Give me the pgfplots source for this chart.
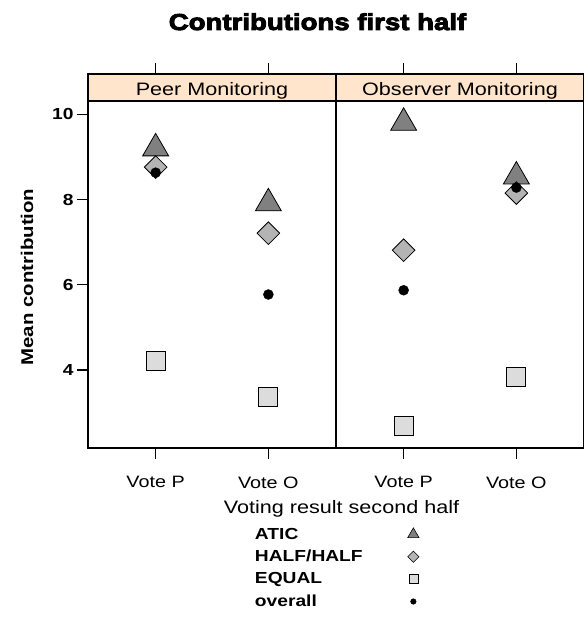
\documentclass[border=0pt]{standalone}
\usepackage{fontspec}
\setmainfont{Liberation Sans}[FakeStretch=1.2]
\newfontfamily\titlefont{Liberation Sans}[FakeStretch=1.2, BoldFeatures={FakeBold=4}]
\usepackage{pgfplots}
\pgfplotsset{compat=1.18}
\definecolor{stripcol}{HTML}{FFE5CC}
\definecolor{aticcol}{HTML}{808080}
\definecolor{halfcol}{HTML}{B4B4B4}
\definecolor{eqcol}{HTML}{DCDCDC}
\newcommand{\fs}[1]{\fontsize{#1}{#1}\selectfont}
\pgfplotsset{
  panel/.style={scale only axis, width=248pt, height=374pt,
    xmin=0.4, xmax=2.6, ymin=2.167, ymax=10.946,
    xtick={1,2}, xticklabels={Vote P, Vote O}, xticklabel pos=lower,
    tick align=outside, major tick length=11pt,
    axis line style={line width=1.4pt}, tick style={line width=1.4pt, black},
    xticklabel style={font=\fs{16.5}, yshift=-14pt},
    axis on top},
  atic/.style={only marks, mark=triangle*, mark size=15pt, mark options={fill=aticcol, draw=black, line width=0.8pt}},
  half/.style={only marks, mark=square*, mark size=8pt, mark options={rotate=45, fill=halfcol, draw=black, line width=0.8pt}},
  eq/.style={only marks, mark=square*, mark size=9.5pt, mark options={fill=eqcol, draw=black, line width=0.8pt}},
  overall/.style={only marks, mark=*, mark size=5pt, mark options={fill=black, draw=black}},
}
\begin{document}
\begin{tikzpicture}
\useasboundingbox (0,0) rectangle (583pt,623pt);
% left panel
\begin{axis}[panel, at={(88pt,175pt)}, anchor=south west,
  ytick={4,6,8,10}, ytick pos=left,
  yticklabel style={font=\bfseries\fs{16}},
  /pgf/number format/assume math mode=true]
\fill[stripcol] (axis cs:0.4,10.31) rectangle (axis cs:2.6,10.946);
\draw[line width=1.4pt] (axis cs:0.4,10.31) -- (axis cs:2.6,10.31);
\node[anchor=base, font=\fs{18}] at (axis cs:1.5,10.43) {Peer Monitoring};
\addplot[atic] coordinates {(1,9.20) (2,7.91)};
\addplot[half] coordinates {(1,8.76) (2,7.21)};
\addplot[eq] coordinates {(1,4.21) (2,3.37)};
\addplot[overall] coordinates {(1,8.63) (2,5.77)};
\end{axis}
% right panel
\begin{axis}[panel, at={(336pt,175pt)}, anchor=south west,
  ytick=\empty,
  legend style={at={(-0.3347,-0.2086)}, anchor=north west, draw=none, fill=none,
    inner sep=0pt, outer sep=0pt, legend cell align=left, legend plot pos=right,
    font=\bfseries\fs{16}, row sep=5.5pt, column sep=43pt}]
\fill[stripcol] (axis cs:0.4,10.31) rectangle (axis cs:2.6,10.946);
\draw[line width=1.4pt] (axis cs:0.4,10.31) -- (axis cs:2.6,10.31);
\node[anchor=base, font=\fs{18}] at (axis cs:1.5,10.43) {Observer Monitoring};
\addplot[atic, forget plot] coordinates {(1,9.80) (2,8.54)};
\addplot[half, forget plot] coordinates {(1,6.81) (2,8.15)};
\addplot[eq, forget plot] coordinates {(1,2.68) (2,3.83)};
\addplot[overall, forget plot] coordinates {(1,5.87) (2,8.28)};
\addlegendimage{only marks, mark=triangle*, mark size=6.5pt, mark options={fill=aticcol, draw=black, line width=0.6pt}}
\addlegendentry{ATIC}
\addlegendimage{only marks, mark=square*, mark size=4pt, mark options={rotate=45, fill=halfcol, draw=black, line width=0.6pt}}
\addlegendentry{HALF/HALF}
\addlegendimage{only marks, mark=square*, mark size=4.5pt, mark options={fill=eqcol, draw=black, line width=0.6pt}}
\addlegendentry{EQUAL}
\addlegendimage{only marks, mark=*, mark size=2.8pt, mark options={fill=black, draw=black}}
\addlegendentry{overall}
\end{axis}
\node[anchor=base, font=\titlefont\bfseries\fs{23}] at (317.5pt,593pt) {Contributions first half};
\node[anchor=base, rotate=90, font=\bfseries\fs{17}] at (33pt,346pt) {Mean contribution};
\node[anchor=base, font=\fs{18}] at (341.5pt,109pt) {Voting result second half};
\end{tikzpicture}
\end{document}
